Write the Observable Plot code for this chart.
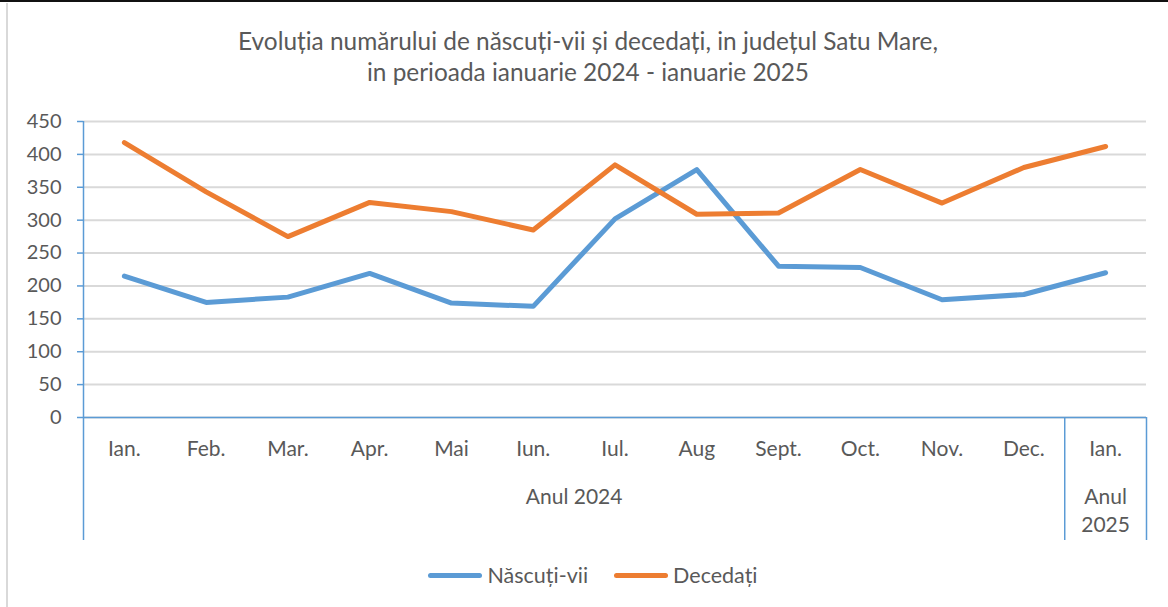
<!DOCTYPE html>
<html>
<head>
<meta charset="utf-8">
<script src="https://cdn.jsdelivr.net/npm/d3@7"></script>
<script src="https://cdn.jsdelivr.net/npm/@observablehq/plot@0.6"></script>
<style>
  html, body { margin: 0; padding: 0; background: #fff; }
  #page { position: relative; width: 1168px; height: 607px; overflow: hidden; font-family: Lato, "Noto Sans", sans-serif; color: #595959; }
  #topline { position: absolute; left: 0; top: 0; width: 1168px; height: 2px; background: #111; }
  #leftline { position: absolute; left: 6px; top: 3px; width: 2px; height: 604px; background: #d9d9d9; }
  #title { position: absolute; left: 0; top: 25px; width: 1176px; text-align: center; font-size: 24.4px; line-height: 31px; }
  #chart { position: absolute; left: 0; top: 0; }
  #legend { position: absolute; left: 0; top: 562px; width: 1186px; display: flex; justify-content: center; gap: 26px; font-size: 21.5px; }
  .item { display: flex; align-items: center; gap: 5px; }
  .sw { width: 54px; height: 5px; border-radius: 3px; }
</style>
</head>
<body>
<div id="page">
  <div id="topline"></div>
  <div id="leftline"></div>
  <div id="title"></div>
  <div id="chart"></div>
  <div id="legend"></div>
</div>
<script>
const titleLines = ["Evoluția numărului de născuți-vii și decedați, in județul Satu Mare,", "in perioada ianuarie 2024 - ianuarie 2025"];
const months = ["Ian.", "Feb.", "Mar.", "Apr.", "Mai", "Iun.", "Iul.", "Aug", "Sept.", "Oct.", "Nov.", "Dec.", "Ian."];
const years = ["Anul 2024","Anul 2024","Anul 2024","Anul 2024","Anul 2024","Anul 2024","Anul 2024","Anul 2024","Anul 2024","Anul 2024","Anul 2024","Anul 2024","Anul\n2025"];
const nascuti = [215, 175, 183, 219, 174, 169, 302, 377, 230, 228, 179, 187, 220];
const decedati = [418, 343, 275, 327, 313, 285, 384, 309, 311, 377, 326, 380, 412];
const seriesNames = ["Născuți-vii", "Decedați"];
const seriesColors = ["#5b9bd5", "#ed7d31"];
const yTicks = [0, 50, 100, 150, 200, 250, 300, 350, 400, 450];

document.getElementById("title").innerHTML = titleLines.map(t => `<div>${t}</div>`).join("");

const rows = [];
months.forEach((m, i) => {
  rows.push({i, v: nascuti[i], s: seriesNames[0]});
  rows.push({i, v: decedati[i], s: seriesNames[1]});
});

// year groups
const groups = [];
years.forEach((y, i) => {
  const g = groups.find(g => g.label === y);
  if (g) g.end = i; else groups.push({label: y, start: i, end: i});
});
groups.forEach(g => g.center = (g.start + g.end) / 2);
const boundaries = [-0.5, ...groups.map(g => g.end + 0.5)];

const axisBlue = "#5b9bd5";

const chart = Plot.plot({
  width: 1168,
  height: 607,
  marginLeft: 83,
  marginRight: 22,
  marginTop: 121,
  marginBottom: 190,
  style: {fontFamily: "Lato, 'Noto Sans', sans-serif", color: "#595959", background: "transparent"},
  x: {type: "linear", domain: [-0.5, months.length - 0.5]},
  y: {domain: [0, 450]},
  color: {domain: seriesNames, range: seriesColors},
  marks: [
    Plot.gridY(yTicks, {stroke: "#d9d9d9", strokeOpacity: 1, strokeWidth: 2}),
    Plot.axisY(yTicks, {tickSize: 6, tickPadding: 16, stroke: axisBlue, strokeWidth: 1.5, fontSize: 20, fill: "#595959", label: null}),
    Plot.ruleX([boundaries[0]], {stroke: axisBlue, strokeWidth: 1.5}),
    Plot.ruleY([0], {stroke: axisBlue, strokeWidth: 1.5}),
    Plot.axisX(boundaries, {tickSize: 123, stroke: axisBlue, strokeWidth: 1.5, tickFormat: () => "", label: null}),
    Plot.axisX(d3.range(months.length), {tickSize: 0, tickPadding: 24, tickFormat: i => months[i], fontSize: 21, fill: "#595959", label: null}),
    Plot.text(groups, {x: "center", text: "label", frameAnchor: "bottom", dy: 66, lineAnchor: "top", lineHeight: 1.35, fontSize: 21, fill: "#595959"}),
    Plot.line(rows, {x: "i", y: "v", z: "s", stroke: "s", strokeWidth: 5, strokeLinecap: "round", strokeLinejoin: "round"})
  ]
});
document.getElementById("chart").appendChild(chart);

document.getElementById("legend").innerHTML = seriesNames.map((n, k) =>
  `<div class="item"><div class="sw" style="background:${seriesColors[k]}"></div><span>${n}</span></div>`).join("");
</script>
</body>
</html>
